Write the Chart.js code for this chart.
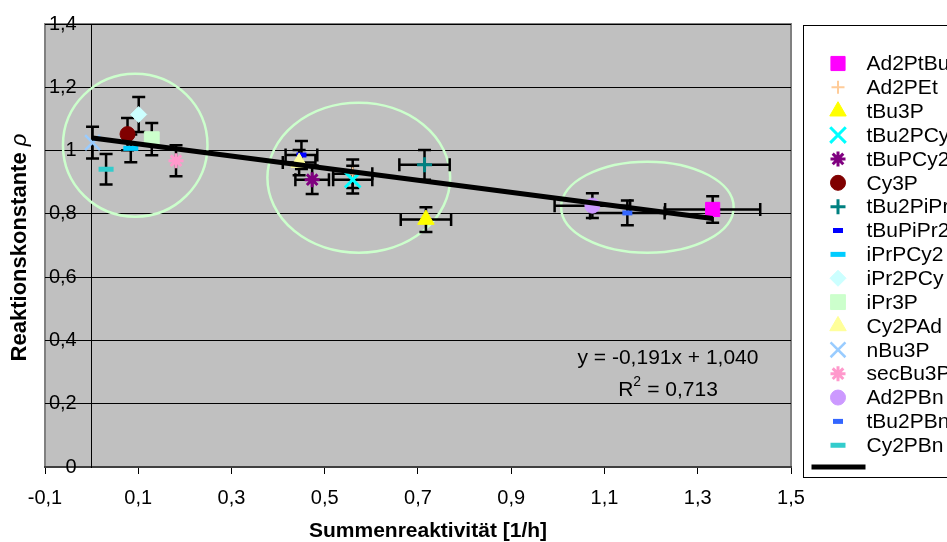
<!DOCTYPE html>
<html>
<head>
<meta charset="utf-8">
<script src="https://cdn.jsdelivr.net/npm/chart.js@4"></script>
<style>
  html, body { margin: 0; padding: 0; background: #fff; }
</style>
</head>
<body>
<canvas id="chart1" width="947" height="542"></canvas>
<script>
const seriesNames = ['Ad2PtBu', 'Ad2PEt', 'tBu3P', 'tBu2PCy', 'tBuPCy2', 'Cy3P', 'tBu2PiPr', 'tBuPiPr2', 'iPrPCy2',
  'iPr2PCy', 'iPr3P', 'Cy2PAd', 'nBu3P', 'secBu3P', 'Ad2PBn', 'tBu2PBn', 'Cy2PBn'];
const xValues = [1.332, 0.560, 0.717, 0.560, 0.473, 0.077, 0.714, 0.450, 0.084, 0.101, 0.129, 0.445, 0.002, 0.181, 1.074, 1.149, 0.031];
const yValues = [0.814, 0.927, 0.782, 0.908, 0.908, 1.052, 0.955, 0.986, 1.007, 1.114, 1.036, 0.962, 1.025, 0.968, 0.826, 0.803, 0.941];
const xErrors = [0.102, 0.042, 0.054, 0.042, 0.036, 0, 0.054, 0.034, 0, 0, 0, 0.035, 0, 0, 0.081, 0.080, 0];
const yErrors = [0.042, 0.045, 0.039, 0.044, 0.045, 0.051, 0.047, 0.044, 0.044, 0.055, 0.051, 0.040, 0.050, 0.049, 0.039, 0.039, 0.048];

const xTickLabels = ['-0,1', '0,1', '0,3', '0,5', '0,7', '0,9', '1,1', '1,3', '1,5'];
const yTickLabels = ['0', '0,2', '0,4', '0,6', '0,8', '1', '1,2', '1,4'];

// lineare Trendlinie (Excel)
const trendSlope = -0.191;
const trendIntercept = 1.040;
const trendR2 = 0.713;

// Kreise um die Gruppen: Mitte x, Mitte y, Radius x, Radius y (Datenwerte)
const clusterEllipses = [
  [0.0935, 1.017, 0.155, 0.226],
  [0.573, 0.914, 0.196, 0.237],
  [1.192, 0.821, 0.185, 0.144]
];

const markerColors = ['#FF00FF', '#FFCC99', '#FFFF00', '#00FFFF', '#800080', '#800000', '#008080', '#0000FF', '#00CCFF',
  '#CCFFFF', '#CCFFCC', '#FFFF99', '#99CCFF', '#FF99CC', '#CC99FF', '#3366FF', '#33CCCC'];
const markerStyles = ['rect', 'cross', 'triangle', 'crossRot', 'star', 'circle', 'cross', 'line', 'line',
  'rectRot', 'rect', 'triangle', 'crossRot', 'star', 'circle', 'line', 'line'];
const markerRadius = [10, 6.5, 9.5, 11, 7.5, 7.5, 7.5, 5, 7.5, 8, 10.5, 9.5, 10.5, 7.5, 7.5, 5, 7.5];
const markerBorder = [1, 2, 1, 3, 3, 1, 3, 5, 5, 1, 1, 1, 2.5, 3, 1, 5, 5];

const FONT = 'Liberation Sans, Arial, sans-serif';
const fmt = v => v.toFixed(3).replace('.', ',');

const datasets = seriesNames.map((name, i) => ({
  label: name,
  data: [{ x: xValues[i], y: yValues[i], ex: xErrors[i], ey: yErrors[i] }],
  backgroundColor: markerColors[i],
  borderColor: markerColors[i],
  pointStyle: markerStyles[i],
  pointRadius: markerRadius[i],
  pointBorderWidth: markerBorder[i],
  showLine: false,
  order: -i
}));

const xMin = Math.min(...xValues), xMax = Math.max(...xValues);
datasets.push({
  type: 'line',
  label: '',
  data: [{ x: xMin, y: trendSlope * xMin + trendIntercept }, { x: xMax, y: trendSlope * xMax + trendIntercept }],
  borderColor: '#000',
  borderWidth: 5,
  pointRadius: 0,
  order: -100
});

const decor = {
  id: 'decor',
  beforeDraw(chart) {
    const { ctx, chartArea: a } = chart;
    ctx.save();
    ctx.fillStyle = '#C0C0C0';
    ctx.fillRect(a.left, a.top, a.right - a.left, a.bottom - a.top);
    ctx.strokeStyle = '#808080';
    ctx.lineWidth = 2;
    ctx.strokeRect(a.left, a.top, a.right - a.left, a.bottom - a.top);
    ctx.restore();
  },
  beforeDatasetsDraw(chart) {
    const { ctx, scales: { x, y } } = chart;
    ctx.save();
    // Ellipsen
    ctx.strokeStyle = '#CCFFCC';
    ctx.lineWidth = 2.5;
    clusterEllipses.forEach(([cx, cy, rx, ry]) => {
      const px = x.getPixelForValue(cx), py = y.getPixelForValue(cy);
      const prx = Math.abs(x.getPixelForValue(cx + rx) - px);
      const pry = Math.abs(y.getPixelForValue(cy + ry) - py);
      ctx.beginPath();
      ctx.ellipse(px, py, prx, pry, 0, 0, Math.PI * 2);
      ctx.stroke();
    });
    // Fehlerbalken
    ctx.strokeStyle = '#000';
    ctx.lineWidth = 2.5;
    const cap = 6.5;
    chart.data.datasets.forEach(ds => {
      ds.data.forEach(p => {
        if (p.ex === undefined) return;
        const px = x.getPixelForValue(p.x), py = y.getPixelForValue(p.y);
        if (p.ey > 0) {
          const t = y.getPixelForValue(p.y + p.ey), b = y.getPixelForValue(p.y - p.ey);
          ctx.beginPath();
          ctx.moveTo(px, t); ctx.lineTo(px, b);
          ctx.moveTo(px - cap, t); ctx.lineTo(px + cap, t);
          ctx.moveTo(px - cap, b); ctx.lineTo(px + cap, b);
          ctx.stroke();
        }
        if (p.ex > 0) {
          const l = x.getPixelForValue(p.x - p.ex), r = x.getPixelForValue(p.x + p.ex);
          ctx.beginPath();
          ctx.moveTo(l, py); ctx.lineTo(r, py);
          ctx.moveTo(l, py - cap); ctx.lineTo(l, py + cap);
          ctx.moveTo(r, py - cap); ctx.lineTo(r, py + cap);
          ctx.stroke();
        }
      });
    });
    ctx.restore();
  },
  afterDraw(chart) {
    const { ctx, chartArea: a } = chart;
    ctx.save();
    ctx.fillStyle = '#000';

    // Gleichung der Trendlinie
    ctx.font = '21px ' + FONT;
    ctx.textAlign = 'center';
    ctx.textBaseline = 'middle';
    ctx.fillText('y = ' + fmt(trendSlope) + 'x + ' + fmt(trendIntercept), 668, 358);
    const r2 = ' = ' + fmt(trendR2);
    const wR = ctx.measureText('R').width, w2 = 8, wRest = ctx.measureText(r2).width;
    const sx = 668 - (wR + w2 + wRest) / 2;
    ctx.textAlign = 'left';
    ctx.fillText('R', sx, 390);
    ctx.font = '14px ' + FONT;
    ctx.fillText('2', sx + wR, 382);
    ctx.font = '21px ' + FONT;
    ctx.fillText(r2, sx + wR + w2, 390);

    // Achsentitel
    ctx.font = 'bold 21px ' + FONT;
    ctx.textAlign = 'center';
    ctx.fillText('Summenreaktivität [1/h]', 428, 531);
    ctx.save();
    ctx.translate(20, (a.top + a.bottom) / 2 + 2);
    ctx.rotate(-Math.PI / 2);
    const t1 = 'Reaktionskonstante ';
    ctx.font = 'bold 22px ' + FONT;
    const w1 = ctx.measureText(t1).width;
    ctx.font = 'italic 22px ' + FONT;
    const wp = ctx.measureText('ρ').width;
    ctx.textAlign = 'left';
    ctx.font = 'bold 22px ' + FONT;
    ctx.fillText(t1, -(w1 + wp) / 2, 0);
    ctx.font = 'italic 22px ' + FONT;
    ctx.fillText('ρ', -(w1 + wp) / 2 + w1, 0);
    ctx.restore();

    // Legende
    const boxL = a.right + 12.5, boxT = a.top + 1.5, boxB = 477.5;
    ctx.fillStyle = '#fff';
    ctx.fillRect(boxL, boxT, 200, boxB - boxT);
    ctx.strokeStyle = '#000';
    ctx.lineWidth = 1;
    ctx.strokeRect(boxL, boxT, 200, boxB - boxT);
    const step = 23.86, firstY = 63.5;
    ctx.font = '21px ' + FONT;
    ctx.textAlign = 'left';
    ctx.textBaseline = 'middle';
    chart.data.datasets.forEach((ds, i) => {
      const yy = firstY + i * step;
      if (ds.type === 'line') {
        ctx.strokeStyle = ds.borderColor;
        ctx.lineWidth = ds.borderWidth;
        ctx.beginPath();
        ctx.moveTo(boxL + 8, yy - 2);
        ctx.lineTo(boxL + 62, yy - 2);
        ctx.stroke();
        return;
      }
      ctx.fillStyle = ds.backgroundColor;
      ctx.strokeStyle = ds.borderColor;
      ctx.lineWidth = ds.pointBorderWidth;
      Chart.helpers.drawPoint(ctx, {
        pointStyle: ds.pointStyle, radius: ds.pointRadius, rotation: 0, borderWidth: ds.pointBorderWidth
      }, boxL + 34.5, yy);
      ctx.fillStyle = '#000';
      ctx.fillText(ds.label, boxL + 63, yy + 1);
    });
    ctx.restore();
  }
};

const yTicks = {
  stepSize: 0.2,
  color: '#000',
  font: { family: FONT, size: 20 },
  callback: (v, i) => yTickLabels[i]
};

const chart1 = new Chart(document.getElementById('chart1'), {
  type: 'scatter',
  data: { datasets: datasets },
  options: {
    responsive: false,
    animation: false,
    layout: { padding: { left: 45, top: 24, right: 156, bottom: 20 } },
    plugins: {
      legend: { display: false },
      tooltip: { enabled: false }
    },
    scales: {
      x: {
        type: 'linear',
        position: 'bottom',
        min: -0.1,
        max: 1.5,
        ticks: {
          stepSize: 0.2,
          autoSkip: false,
          maxRotation: 0,
          padding: 12,
          color: '#000',
          font: { family: FONT, size: 20 },
          callback: (v, i) => xTickLabels[i]
        },
        grid: { drawOnChartArea: false, drawTicks: true, tickLength: 7, color: '#000' },
        border: { color: '#404040', width: 2 }
      },
      // Achse bei x = 0 (Linie, Gitter, Teilstriche)
      y: {
        type: 'linear',
        position: { x: 0 },
        min: 0,
        max: 1.4,
        ticks: { ...yTicks, display: false },
        grid: { color: '#000', lineWidth: 1, tickLength: 5 },
        border: { color: '#000', width: 1 }
      },
      // Beschriftung links von der Achse
      yLabels: {
        type: 'linear',
        axis: 'y',
        position: { x: -0.032 },
        min: 0,
        max: 1.4,
        ticks: yTicks,
        grid: { display: false },
        border: { display: false }
      }
    }
  },
  plugins: [decor]
});
</script>
</body>
</html>
